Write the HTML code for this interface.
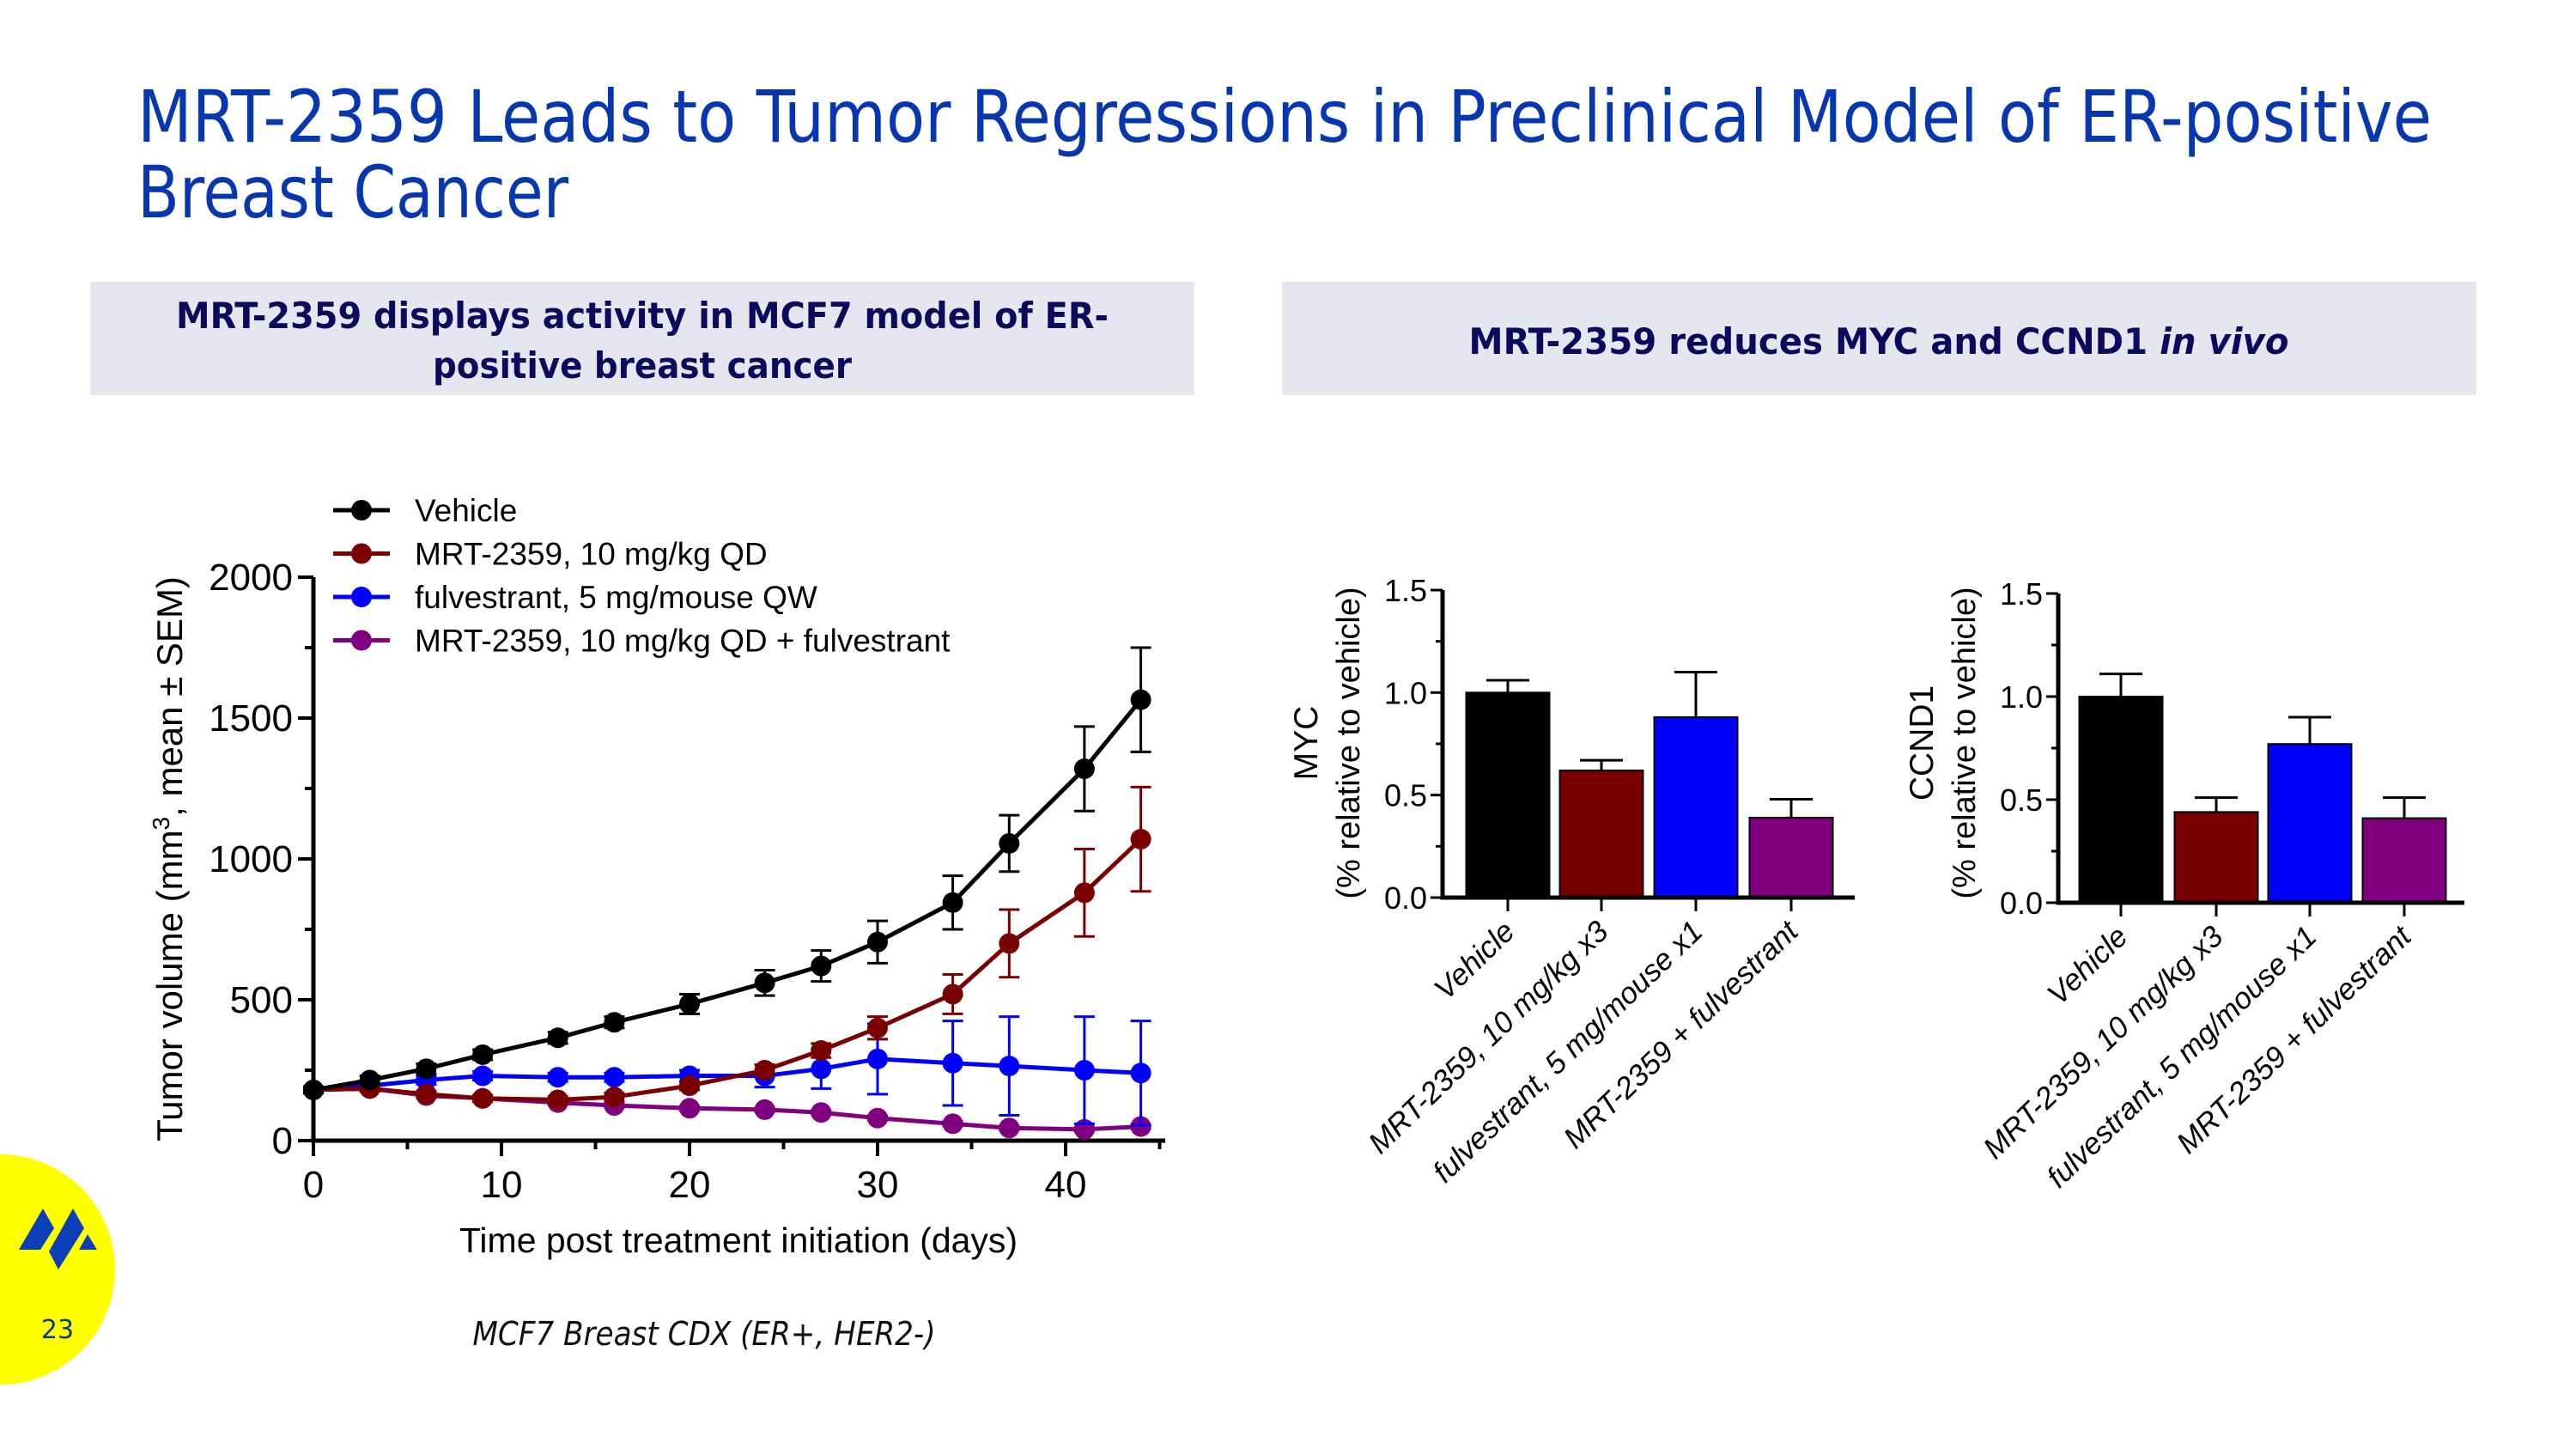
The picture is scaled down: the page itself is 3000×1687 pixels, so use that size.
<!DOCTYPE html>
<html><head><meta charset="utf-8">
<style>
html,body{margin:0;padding:0;background:#fff;}
svg{display:block;font-family:"Liberation Sans",sans-serif;}
</style></head>
<body>
<svg id="s" width="3000" height="1687" viewBox="0 0 3000 1687" xmlns="http://www.w3.org/2000/svg">
<g fill="#0636b0" font-family="'DejaVu Sans Condensed','DejaVu Sans',sans-serif" font-size="84">
<text x="160" y="165" textLength="2672" lengthAdjust="spacingAndGlyphs">MRT-2359 Leads to Tumor Regressions in Preclinical Model of ER-positive</text>
<text x="160" y="253" textLength="502" lengthAdjust="spacingAndGlyphs">Breast Cancer</text>
</g>
<g>
<rect x="105" y="328" width="1286" height="132" fill="#e6e6ee"/>
<text x="748" y="382" text-anchor="middle" font-family="'DejaVu Sans Condensed','DejaVu Sans',sans-serif" font-weight="bold" font-size="42" fill="#0b0b5e" textLength="1086" lengthAdjust="spacingAndGlyphs">MRT-2359 displays activity in MCF7 model of ER-</text>
<text x="748" y="440" text-anchor="middle" font-family="'DejaVu Sans Condensed','DejaVu Sans',sans-serif" font-weight="bold" font-size="42" fill="#0b0b5e" textLength="488" lengthAdjust="spacingAndGlyphs">positive breast cancer</text>
</g>
<g>
<rect x="1493" y="328" width="1391" height="132" fill="#e6e6ee"/>
<text x="2188" y="412" text-anchor="middle" font-family="'DejaVu Sans Condensed','DejaVu Sans',sans-serif" font-weight="bold" font-size="42" fill="#0b0b5e" textLength="955" lengthAdjust="spacingAndGlyphs">MRT-2359 reduces MYC and CCND1 <tspan font-style="italic">in vivo</tspan></text>
</g>
<g>
<circle cx="0" cy="1478" r="134" fill="#ffff00"/>
<polygon points="22,1455 50,1407 63,1430 47,1455" fill="#0a3fb8"/>
<polygon points="57,1457 85,1407 98,1430 68,1478" fill="#0a3fb8"/>
<polygon points="92,1455 102,1437 113,1455" fill="#0a3fb8"/>
<text x="67" y="1558" text-anchor="middle" font-family="'DejaVu Sans',sans-serif" font-size="30" fill="#0a3a8a">23</text>
</g>
<text x="820" y="1566" text-anchor="middle" font-family="'DejaVu Sans Condensed','DejaVu Sans',sans-serif" font-style="italic" font-size="38" fill="#111">MCF7 Breast CDX (ER+, HER2-)</text>
<g id="line"></g>
<g id="bar1"></g>
<g id="bar2"></g>
</svg>
<script>
const days=[0,3,6,9,13,16,20,24,27,30,34,37,41,44];
const vehicle=[180,215,255,305,365,420,485,560,620,705,845,1055,1320,1565];
const vehicleErr=[12,15,18,18,20,20,35,45,55,75,95,100,150,185];
const mrt=[180,185,165,150,145,155,195,250,320,400,520,700,880,1070];
const mrtErr=[10,10,12,12,12,14,15,20,25,40,70,120,155,185];
const fulv=[180,195,215,230,225,225,230,230,255,290,275,265,250,240];
const fulvErr=[10,12,15,15,15,15,20,40,70,125,150,175,190,185];
const combo=[180,185,160,150,135,125,115,110,100,80,60,45,40,50];
const comboErr=[8,8,8,8,8,8,8,8,8,8,8,8,8,8];
const seriesNames=["Vehicle","MRT-2359, 10 mg/kg QD","fulvestrant, 5 mg/mouse QW","MRT-2359, 10 mg/kg QD + fulvestrant"];
const xTicks=[0,10,20,30,40];
const yTicks=[0,500,1000,1500,2000];
const barCats=["Vehicle","MRT-2359, 10 mg/kg x3","fulvestrant, 5 mg/mouse x1","MRT-2359 + fulvestrant"];
const mycVals=[1.0,0.62,0.88,0.39];
const mycErr=[0.06,0.05,0.22,0.09];
const ccndVals=[1.0,0.44,0.77,0.41];
const ccndErr=[0.11,0.07,0.13,0.1];
const barTicks=[0.0,0.5,1.0,1.5];

const NS="http://www.w3.org/2000/svg";
function mk(parent,tag,attrs,text){const e=document.createElementNS(NS,tag);for(const k in attrs)e.setAttribute(k,attrs[k]);if(text!==undefined)e.textContent=text;parent.appendChild(e);return e;}

// line chart
const L=document.getElementById('line');
const X=d=>365+(d/40)*876;
const Y=v=>1328-(v/2000)*656;
const colors=["#000000","#7a0000","#0000ff","#800080"];
const allV=[vehicle,mrt,fulv,combo], allE=[vehicleErr,mrtErr,fulvErr,comboErr];
let ax=mk(L,'path',{d:`M${X(0)} ${Y(2000)} V${Y(0)} H${X(45.3)}`,stroke:'#000','stroke-width':5,fill:'none'});

for(let v=0;v<=2000;v+=250){const t=mk(L,'line',{x1:X(0)-(v%500?10:18),x2:X(0),y1:Y(v),y2:Y(v),stroke:'#000','stroke-width':4});}
yTicks.forEach(v=>{const t=mk(L,'text',{x:X(0)-24,y:Y(v)+15,'text-anchor':'end','font-size':44},String(v));});
for(let d=0;d<=45;d+=5){const t=mk(L,'line',{x1:X(d),x2:X(d),y1:Y(0),y2:Y(0)+(d%10?10:18),stroke:'#000','stroke-width':4});}
xTicks.forEach(d=>{const t=mk(L,'text',{x:X(d),y:Y(0)+66,'text-anchor':'middle','font-size':44},String(d));});
let xt=mk(L,'text',{x:860,y:1458,'text-anchor':'middle','font-size':41},'Time post treatment initiation (days)');

let yt=mk(L,'text',{x:0,y:0,'text-anchor':'middle','font-size':42,transform:'translate(212 1000) rotate(-90)'});

yt.innerHTML='Tumor volume (mm<tspan dy="-15" font-size="28">3</tspan><tspan dy="15">, mean ± SEM)</tspan>';
[3,2,1,0].forEach(i=>{
  const g=mk(L,'g',{});
  
  
  const vals=allV[i],errs=allE[i],c=colors[i];
  vals.forEach((v,j)=>{
    mk(g,'path',{d:`M${X(days[j])} ${Y(v+errs[j])} V${Y(v-errs[j])} M${X(days[j])-12} ${Y(v+errs[j])} h24 M${X(days[j])-12} ${Y(v-errs[j])} h24`,stroke:c,'stroke-width':3,fill:'none'});});
  mk(g,'polyline',{points:vals.map((v,j)=>X(days[j])+','+Y(v)).join(' '),stroke:c,'stroke-width':5,fill:'none'});
  vals.forEach((v,j)=>{const p=mk(g,'circle',{cx:X(days[j]),cy:Y(v),r:12,fill:c});});
});
seriesNames.forEach((n,i)=>{
  const y=594+i*50.5;
  const g=mk(L,'g',{});
  
  
  mk(g,'line',{x1:388,x2:454,y1:y,y2:y,stroke:colors[i],'stroke-width':5});
  mk(g,'circle',{cx:421,cy:y,r:12,fill:colors[i]});
  mk(g,'text',{x:483,y:y+13,'font-size':37},n);
});

// bar charts
function barChart(id,vals,errs,ax0,y0,y15,xEnd,centers,t1,t2x,t1x){
  const G=document.getElementById(id);
  const Yb=v=>y0-(v/1.5)*(y0-y15);
  const bw=97;
  vals.forEach((v,i)=>{
    const r=mk(G,'rect',{x:centers[i]-bw/2,y:Yb(v),width:bw,height:y0-Yb(v),fill:colors[i],stroke:'#000','stroke-width':2});
    
    mk(G,'path',{d:`M${centers[i]} ${Yb(v)} V${Yb(v+errs[i])} M${centers[i]-25} ${Yb(v+errs[i])} h50`,stroke:'#000','stroke-width':3,fill:'none'});
  });
  const a=mk(G,'path',{d:`M${ax0} ${y15} V${y0} H${xEnd}`,stroke:'#000','stroke-width':5,fill:'none'});
  
  for(let v=0;v<=1.5001;v+=0.25){mk(G,'line',{x1:ax0-(Math.round(v*100)%50?8:14),x2:ax0,y1:Yb(v),y2:Yb(v),stroke:'#000','stroke-width':3});}
  barTicks.forEach(v=>{const t=mk(G,'text',{x:ax0-18,y:Yb(v)+13,'text-anchor':'end','font-size':36},v.toFixed(1));});
  barCats.forEach((c,i)=>{
    mk(G,'line',{x1:centers[i],x2:centers[i],y1:y0,y2:y0+16,stroke:'#000','stroke-width':3});
    const t=mk(G,'text',{x:0,y:0,'text-anchor':'end','font-size':35,'font-style':'italic',transform:`translate(${centers[i]+10} ${y0+42}) rotate(-44)`},c);
    
  });
  const a1=mk(G,'text',{x:0,y:0,'text-anchor':'middle','font-size':39,transform:`translate(${t1x} 865) rotate(-90)`},t1);
  
  const a2=mk(G,'text',{x:0,y:0,'text-anchor':'middle','font-size':38,transform:`translate(${t2x} 865) rotate(-90)`},'(% relative to vehicle)');
  
}
barChart('bar1',mycVals,mycErr,1680,1045,687,2160,[1756,1865,1975,2086],'MYC',1583,1534);
barChart('bar2',ccndVals,ccndErr,2397,1051,691,2870,[2470,2581,2690,2800],'CCND1',2300,2251);
</script>
</body></html>
